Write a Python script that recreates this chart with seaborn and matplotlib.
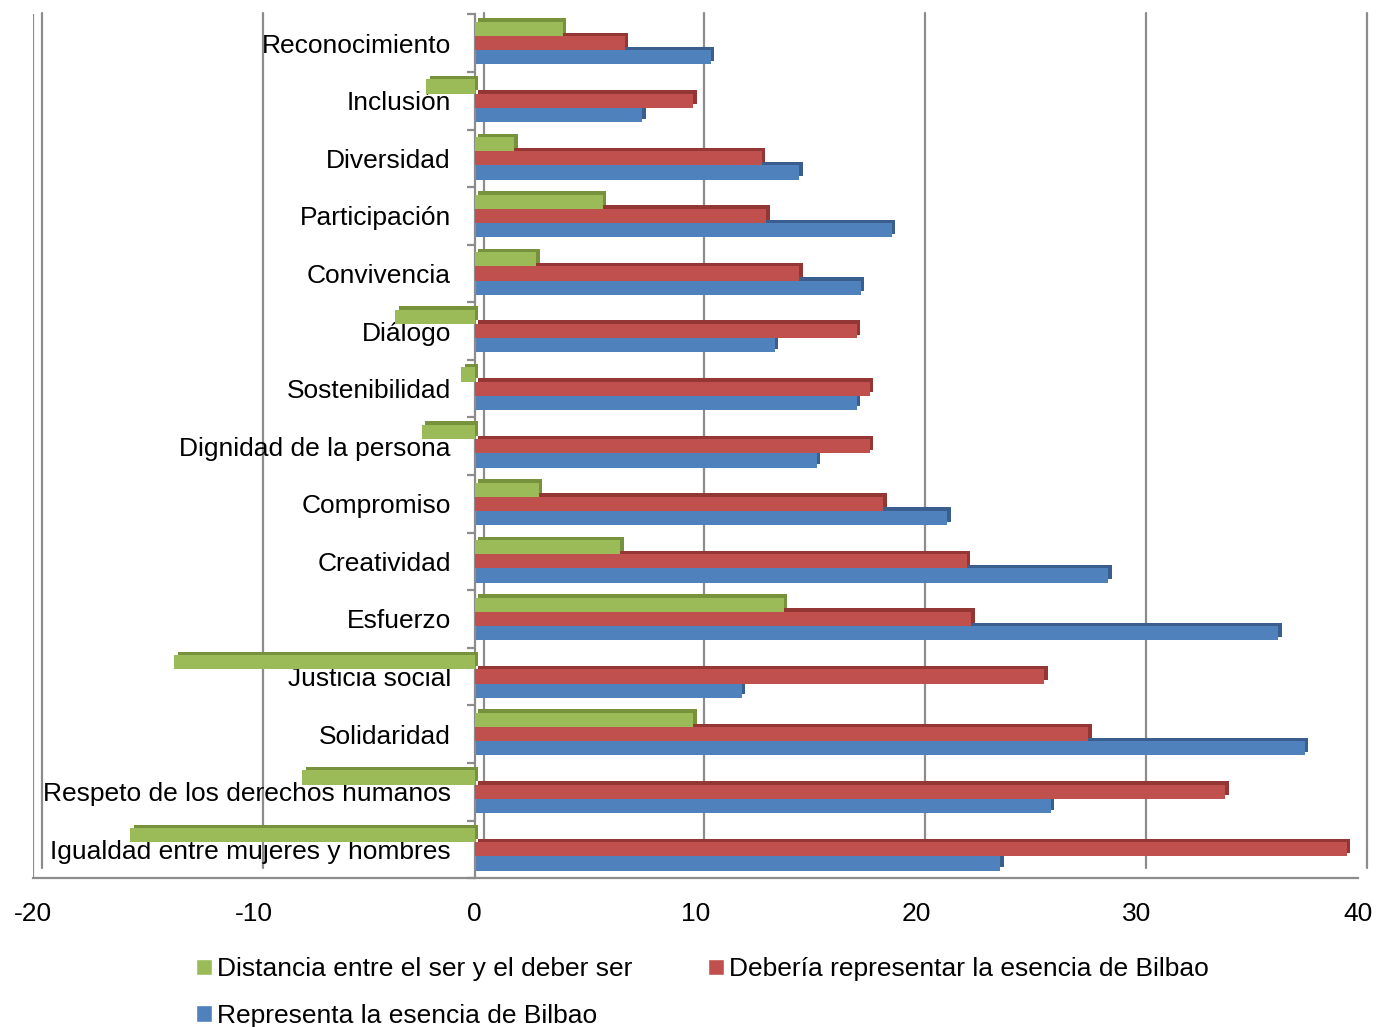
import seaborn as sns
import matplotlib.pyplot as plt
import matplotlib.patheffects as pe
import matplotlib.transforms as mtransforms
import pandas as pd

#Values (top to bottom)
categories = ['Reconocimiento', 'Inclusión', 'Diversidad', 'Participación', 'Convivencia',
              'Diálogo', 'Sostenibilidad', 'Dignidad de la persona', 'Compromiso', 'Creatividad',
              'Esfuerzo', 'Justicia social', 'Solidaridad', 'Respeto de los derechos humanos',
              'Igualdad entre mujeres y hombres']
distancia = [4.0, -2.2, 1.8, 5.8, 2.8, -3.6, -0.6, -2.4, 2.9, 6.6, 14.0, -13.6, 9.9, -7.8, -15.6]
deberia = [6.8, 9.9, 13.0, 13.2, 14.7, 17.3, 17.9, 17.9, 18.5, 22.3, 22.5, 25.8, 27.8, 34.0, 39.5]
representa = [10.7, 7.6, 14.7, 18.9, 17.5, 13.6, 17.3, 15.5, 21.4, 28.7, 36.4, 12.1, 37.6, 26.1, 23.8]

series = ['Distancia entre el ser y el deber ser',
          'Debería representar la esencia de Bilbao',
          'Representa la esencia de Bilbao']
colors = ['#9BBB59', '#C0504D', '#4F81BD']
dark_colors = ['#76923C', '#943634', '#3A5F8F']

#Long format table for seaborn
df = pd.DataFrame({
    'categoria': categories * 3,
    'valor': distancia + deberia + representa,
    'serie': [series[0]] * 15 + [series[1]] * 15 + [series[2]] * 15,
})

sns.set_style('white')
plt.rcParams['font.family'] = ['Liberation Sans', 'DejaVu Sans']
plt.rcParams['axes.unicode_minus'] = False
plt.rcParams['text.color'] = 'black'
plt.rcParams['xtick.color'] = 'black'
plt.rcParams['ytick.color'] = 'black'

fig = plt.figure(figsize=(13.77, 10.27), dpi=100)
ax = fig.add_axes([0.024, 0.145, 0.962, 0.841])

sns.barplot(data=df, x='valor', y='categoria', hue='serie', order=categories,
            hue_order=series, palette=colors, orient='h', width=0.74,
            saturation=1, errorbar=None, legend=True, ax=ax)

#Fake 3D depth: darker shadow up/right, upper bars drawn in front
for i, cont in enumerate(ax.containers):
    for bar in cont:
        bar.set_edgecolor('none')
        bar.set_linewidth(0)
        bar.set_zorder(3 - i * 0.3)
        bar.set_path_effects([pe.SimplePatchShadow(offset=(2.5, 2.5), shadow_rgbFace=dark_colors[i], alpha=1.0),
                              pe.Normal()])

ax.set_xlim(-20, 40)
ax.set_ylim(len(categories) - 0.5, -0.5)
ax.set_xticks(range(-20, 41, 10))

#Back wall gridlines shifted like the 3D chart
offset = mtransforms.ScaledTranslation(0.09, 0.10, fig.dpi_scale_trans)
for xv in ax.get_xticks():
    gl = ax.axvline(xv, ymin=0, ymax=0.99, color='#8c8c8c', lw=1.6, zorder=0, clip_on=False)
    gl.set_transform(gl.get_transform() + offset)

#Y axis at zero, labels to the left of it
ax.spines['left'].set_position(('data', 0))
for s in ['left', 'bottom']:
    ax.spines[s].set_color('#8c8c8c')
    ax.spines[s].set_linewidth(1.6)
ax.spines['top'].set_visible(False)
ax.spines['right'].set_visible(False)
ax.axvline(-20, color='#8c8c8c', lw=1.6, zorder=0)

ax.set_yticks(range(len(categories)))
ax.set_yticklabels(categories)
ax.set_yticks([i + 0.5 for i in range(-1, len(categories))], minor=True)
ax.tick_params(axis='y', which='major', left=True, length=0, pad=17, labelsize=19, labelcolor='black')
ax.tick_params(axis='y', which='minor', left=True, length=6, width=1.6, color='#8c8c8c', direction='out')
ax.tick_params(axis='x', length=0, pad=17, labelsize=19, labelcolor='black')
ax.set_xlabel('')
ax.set_ylabel('')

#Legend below the chart, row order like the original
handles, labels = ax.get_legend_handles_labels()
ax.get_legend().remove()
order = [0, 2, 1]
fig.legend([handles[i] for i in order], [labels[i] for i in order], ncol=2,
           loc='upper left', bbox_to_anchor=(0.133, 1 - 944 / 1027), bbox_transform=fig.transFigure,
           frameon=False, fontsize=19, handlelength=0.6, handleheight=0.6, handletextpad=0.2,
           columnspacing=2.85, labelspacing=0.85, borderpad=0)

plt.savefig('out.png', dpi=100)
